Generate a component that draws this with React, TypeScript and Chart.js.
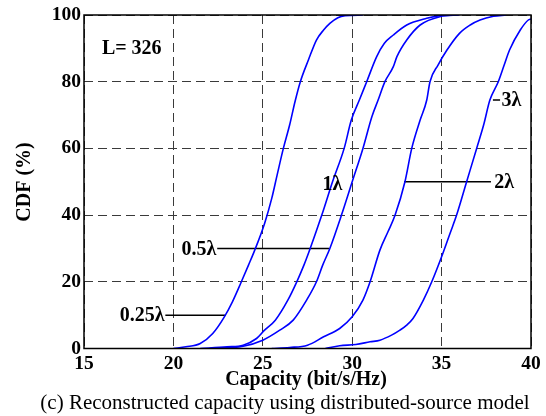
import React, { useEffect, useRef } from 'react';
import { Chart, registerables } from 'chart.js';

Chart.register(...registerables);

// CDF curves (capacity in bit/s/Hz, CDF in %)
const capQuarter = [20, 20.7, 21.5, 22.2, 22.85, 23.3, 23.8, 24.2, 24.55, 25.1, 25.5, 25.8, 26.15, 26.5, 26.8, 27.1, 27.55, 28.0, 28.4, 28.75, 29.2, 29.6, 30.6];
const cdfQuarter = [0, 0.5, 1.5, 4.5, 9.5, 14, 20, 25, 29.5, 37.5, 45, 52, 60, 67, 74, 80, 86.5, 92.5, 95.5, 97.5, 99.2, 99.8, 100];

const capHalf = [21.5, 23.0, 23.9, 24.65, 25.1, 25.7, 26.4, 26.9, 27.3, 27.65, 28.3, 28.9, 29.55, 29.95, 30.4, 30.81, 31.37, 31.8, 32.3, 33.05, 34.17, 34.9, 35.8];
const cdfHalf = [0, 0.5, 1, 3, 5.5, 8.5, 14.5, 20, 25, 30, 40, 50, 60, 68.5, 74.5, 80, 87.5, 91.5, 94, 97, 99, 99.8, 100];

const capOne = [22.0, 23.9, 25.0, 25.95, 26.7, 27.45, 28.0, 28.35, 28.75, 29.4, 30.0, 30.6, 31.1, 31.45, 31.83, 32.3, 32.5, 33.05, 33.8, 34.9, 36.0];
const cdfOne = [0, 0.7, 2.5, 5.5, 8.5, 14.5, 20, 25, 30, 40, 50, 60, 69.5, 74.5, 80, 84.5, 87.5, 92.5, 97, 99.5, 100];

const capTwo = [25.5, 26.5, 27.5, 28.4, 29.3, 30.0, 30.6, 31.0, 31.55, 32.0, 32.4, 32.95, 33.33, 33.8, 34.17, 34.35, 34.8, 35.3, 36.0, 36.6, 37.15, 37.9, 38.6];
const cdfTwo = [0, 0.3, 1, 3.5, 6, 9.5, 14.5, 20, 29.5, 35, 40, 50, 60, 68.5, 74.5, 80, 85, 89.5, 94.5, 97, 98.5, 99.6, 100];

const capThree = [28.5, 29.3, 30.2, 31.0, 31.55, 32.2, 32.67, 33.05, 33.4, 33.98, 34.45, 35.0, 35.47, 35.84, 36.4, 36.96, 37.35, 37.7, 38.17, 38.5, 38.8, 39.4, 39.85, 40];
const cdfThree = [0, 0.8, 1.2, 2, 2.5, 4, 5.5, 7, 9, 14.5, 20, 27.5, 34.5, 40, 50, 60, 67, 74.5, 80, 85, 89.5, 95.5, 98.5, 98.8];

const xTicks = [15, 20, 25, 30, 35, 40];
const yTicks = [0, 20, 40, 60, 80, 100];

// curve annotations
const labelTexts = ['0.25λ', '0.5λ', '1λ', '2λ', '3λ'];
const labelX = [19.5, 22.4, 28.9, 37.95, 38.35];
const labelY = [10, 30, 49.5, 50, 74.5];
const labelAlign = ['right', 'right', 'center', 'left', 'left'];
const leaderStartX = [19.55, 22.45, null, 32.9, 37.87];
const leaderEndX = [22.94, 28.7, null, 37.76, 38.27];
const leaderY = [10, 30, null, 50, 74.5];

const noteText = 'L= 326';
const noteX = 16.0;
const noteY = 89.8;

const xTitle = 'Capacity (bit/s/Hz)';
const yTitle = 'CDF (%)';
const caption = '(c) Reconstructed capacity using distributed-source model';

const SERIF = "'Liberation Serif', 'Times New Roman', serif";
const BLUE = 'rgb(0,0,255)';

function toPoints(xs: number[], ys: number[]) {
  return xs.map((v, i) => ({ x: v, y: ys[i] }));
}

const textPlugin = {
  id: 'textPlugin',
  afterDraw(chart: any) {
    const { ctx, chartArea, scales } = chart;
    const xs = scales.x;
    const ys = scales.y;
    ctx.save();
    // frame
    ctx.strokeStyle = '#000';
    ctx.lineWidth = 1.5;
    ctx.setLineDash([]);
    ctx.strokeRect(chartArea.left, chartArea.top, chartArea.right - chartArea.left, chartArea.bottom - chartArea.top);

    ctx.fillStyle = '#000';
    ctx.textBaseline = 'middle';
    ctx.font = `bold 20px ${SERIF}`;
    // note
    ctx.textAlign = 'left';
    ctx.fillText(noteText, xs.getPixelForValue(noteX), ys.getPixelForValue(noteY));
    // curve labels
    labelTexts.forEach((t, i) => {
      ctx.textAlign = labelAlign[i];
      ctx.fillText(t, xs.getPixelForValue(labelX[i]), ys.getPixelForValue(labelY[i]) + 1);
    });
    // axis titles
    ctx.textAlign = 'center';
    ctx.fillText(xTitle, 306, 380);
    ctx.save();
    ctx.translate(25, 182);
    ctx.rotate(-Math.PI / 2);
    ctx.fillText(yTitle, 0, 0);
    ctx.restore();
    // caption
    ctx.font = `21px ${SERIF}`;
    ctx.fillText(caption, 285, 403);
    ctx.restore();
  },
};

export default function App() {
  const ref = useRef<HTMLCanvasElement>(null);
  useEffect(() => {
    document.body.style.margin = '0';
    const datasets: any[] = [
      [capQuarter, cdfQuarter],
      [capHalf, cdfHalf],
      [capOne, cdfOne],
      [capTwo, cdfTwo],
      [capThree, cdfThree],
    ].map(([xs, ys]) => ({
      data: toPoints(xs, ys),
      borderColor: BLUE,
      borderWidth: 1.6,
      pointRadius: 0,
      cubicInterpolationMode: 'monotone',
      fill: false,
    }));
    labelTexts.forEach((_, i) => {
      if (leaderStartX[i] === null) return;
      datasets.push({
        data: [
          { x: leaderStartX[i], y: leaderY[i] },
          { x: leaderEndX[i], y: leaderY[i] },
        ],
        borderColor: '#000',
        borderWidth: 1.5,
        pointRadius: 0,
        fill: false,
      });
    });
    const tickFont = { family: SERIF, size: 19.5, weight: 'bold' as const };
    const chart = new Chart(ref.current!, {
      type: 'line',
      data: { datasets },
      plugins: [textPlugin],
      options: {
        animation: false,
        responsive: false,
        maintainAspectRatio: false,
        layout: { padding: { top: 15, right: 15, left: 0, bottom: 0 } },
        plugins: { legend: { display: false }, tooltip: { enabled: false } },
        scales: {
          x: {
            type: 'linear',
            min: 15,
            max: 40,
            afterBuildTicks: (s: any) => { s.ticks = xTicks.map((v) => ({ value: v })); },
            afterFit: (s: any) => { s.height = 67.5; },
            grid: { color: '#3a3a3a', lineWidth: 1, drawTicks: false },
            border: { display: false, dash: [9, 5] },
            ticks: { color: '#000', font: tickFont, padding: 4, maxRotation: 0 },
          },
          y: {
            type: 'linear',
            min: 0,
            max: 100,
            afterBuildTicks: (s: any) => { s.ticks = yTicks.map((v) => ({ value: v })); },
            afterFit: (s: any) => { s.width = 84; },
            grid: { color: '#3a3a3a', lineWidth: 1, drawTicks: false },
            border: { display: false, dash: [9, 5] },
            ticks: { color: '#000', font: tickFont, padding: 3 },
          },
        },
      },
    });
    return () => chart.destroy();
  }, []);
  return (
    <div style={{ width: 546, height: 416, background: '#fff' }}>
      <canvas ref={ref} width={546} height={416} />
    </div>
  );
}
